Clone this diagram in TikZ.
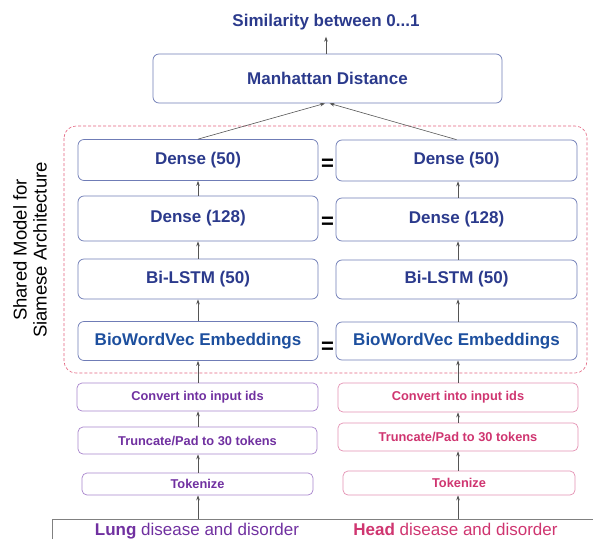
\documentclass[tikz,border=0pt]{standalone}
\usepackage{fontspec}
\setmainfont{Liberation Sans}
\usetikzlibrary{arrows.meta}
\definecolor{navy}{HTML}{2B3A8C}
\definecolor{biocol}{HTML}{1D4F9E}
\definecolor{boxblue}{HTML}{6F7CB6}
\definecolor{lung}{HTML}{7030A0}
\definecolor{lungline}{HTML}{A884CC}
\definecolor{head}{HTML}{CF3570}
\definecolor{headline}{HTML}{E391B2}
\definecolor{shared}{HTML}{E2637F}
\definecolor{arrgray}{HTML}{555555}

\begin{document}
\begin{tikzpicture}[x=1pt,y=-1pt,
  layer/.style={draw=boxblue,rounded corners=6pt,line width=0.75pt,text=navy,
    font=\fontsize{17}{20}\selectfont\bfseries,inner sep=0pt},
  prepL/.style={draw=lungline,rounded corners=5pt,line width=0.7pt,text=lung,
    font=\fontsize{12.8}{15}\selectfont\bfseries,inner sep=0pt},
  prepR/.style={prepL,draw=headline,text=head},
  arr/.style={draw=arrgray,line width=0.6pt,-{Stealth[length=5pt,width=3.6pt]}},
  eq/.style={font=\fontsize{22}{22}\selectfont\bfseries,inner sep=0pt}]
\useasboundingbox (0,0) rectangle (593,539);

\node [text=navy,font=\fontsize{17}{20}\selectfont\bfseries,anchor=base,inner sep=0pt] (sim) at (326,26) {Similarity between 0...1};
\node [layer,minimum width=349pt,minimum height=49pt] (man) at (327.5,78.5) {Manhattan Distance};

\draw [shared,dashed,dash pattern=on 3pt off 2pt,line width=0.6pt,rounded corners=12pt] (64,126) rectangle (587,373);
\node [rotate=90,align=center,font=\fontsize{18.5}{20}\selectfont,inner sep=0pt] (shr) at (30,250) {Shared Model for\\Siamese Architecture};

\node [layer,minimum width=240pt,minimum height=41pt] (d50L) at (198,160) {Dense (50)};
\node [layer,minimum width=240pt,minimum height=45pt] (d128L) at (198,218.5) {Dense (128)};
\node [layer,minimum width=240pt,minimum height=40pt] (lstmL) at (198,279) {Bi-LSTM (50)};
\node [layer,minimum width=240pt,minimum height=39pt,text=biocol] (bioL) at (198,341) {BioWordVec Embeddings};

\node [layer,minimum width=241pt,minimum height=41pt] (d50R) at (456.5,160.5) {Dense (50)};
\node [layer,minimum width=241pt,minimum height=43pt] (d128R) at (456.5,219.5) {Dense (128)};
\node [layer,minimum width=241pt,minimum height=39pt] (lstmR) at (456.5,279.5) {Bi-LSTM (50)};
\node [layer,minimum width=241pt,minimum height=38pt,text=biocol] (bioR) at (456.5,341) {BioWordVec Embeddings};

\node [eq] (eq1) at (327.5,165) {=};
\node [eq] (eq2) at (327.5,223) {=};
\node [eq] (eq3) at (327.5,348) {=};

\node [prepL,minimum width=241pt,minimum height=28pt] (convL) at (197.5,397) {Convert into input ids};
\node [prepL,minimum width=239pt,minimum height=27pt] (truncL) at (197.5,440.5) {Truncate/Pad to 30 tokens};
\node [prepL,minimum width=231pt,minimum height=22pt] (tokL) at (197.5,484) {Tokenize};

\node [prepR,minimum width=240pt,minimum height=29pt] (convR) at (458,397.5) {Convert into input ids};
\node [prepR,minimum width=240pt,minimum height=28pt] (truncR) at (458,437) {Truncate/Pad to 30 tokens};
\node [prepR,minimum width=232pt,minimum height=24pt] (tokR) at (459,483) {Tokenize};

\draw [gray,line width=0.7pt] (52,539) -- (52,519) -- (593,519);
\coordinate (inL) at (198,519);
\coordinate (inR) at (458,519);
\node [font=\fontsize{17}{20}\selectfont,text=lung,anchor=base,inner sep=0pt] (lungtxt) at (197,535) {\textbf{Lung} disease and disorder};
\node [font=\fontsize{17}{20}\selectfont,text=head,anchor=base,inner sep=0pt] (headtxt) at (455.5,535) {\textbf{Head} disease and disorder};

\draw [arr] (inL) -- (inL |- tokL.south);
\draw [arr] (tokL.north -| inL) -- (inL |- truncL.south);
\draw [arr] (truncL.north -| inL) -- (inL |- convL.south);
\draw [arr] (convL.north -| inL) -- (inL |- bioL.south);
\draw [arr] (bioL.north -| inL) -- (inL |- lstmL.south);
\draw [arr] (lstmL.north -| inL) -- (inL |- d128L.south);
\draw [arr] (d128L.north -| inL) -- (inL |- d50L.south);

\draw [arr] (inR) -- (inR |- tokR.south);
\draw [arr] (tokR.north -| inR) -- (inR |- truncR.south);
\draw [arr] (truncR.north -| inR) -- (inR |- convR.south);
\draw [arr] (convR.north -| inR) -- (inR |- bioR.south);
\draw [arr] (bioR.north -| inR) -- (inR |- lstmR.south);
\draw [arr] (lstmR.north -| inR) -- (inR |- d128R.south);
\draw [arr] (d128R.north -| inR) -- (inR |- d50R.south);

\draw [arr] (d50L.north -| inL) -- ([xshift=-2.5pt]man.south);
\draw [arr] (d50R.north) -- ([xshift=2pt]man.south);
\draw [arr] (man.north -| sim) -- ([yshift=-7pt]sim.south);
\end{tikzpicture}
\end{document}
